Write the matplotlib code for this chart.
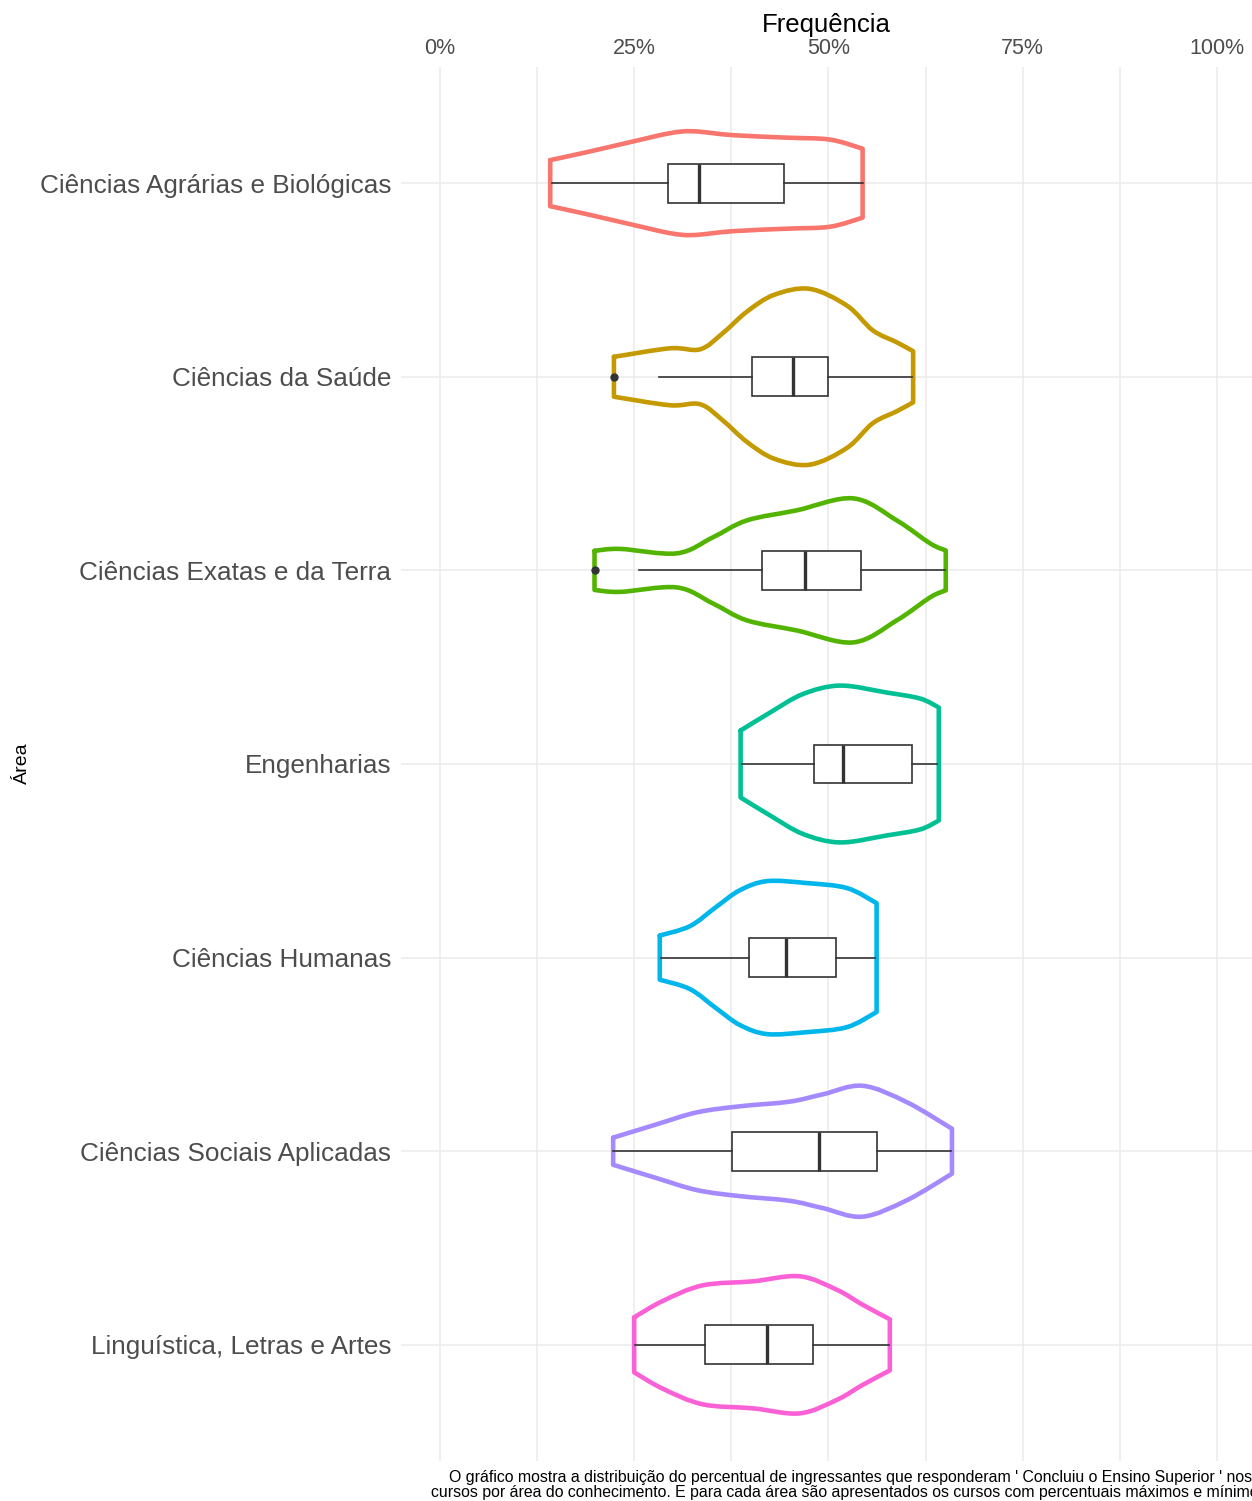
import numpy as np
import matplotlib
matplotlib.use("Agg")
import matplotlib.pyplot as plt
from matplotlib.path import Path
from matplotlib.patches import PathPatch
from matplotlib.ticker import MultipleLocator, FuncFormatter

plt.rcParams['font.family'] = ['Liberation Sans', 'DejaVu Sans']

# categorias (de cima para baixo)
areas = [
    "Ciências Agrárias e Biológicas",
    "Ciências da Saúde",
    "Ciências Exatas e da Terra",
    "Engenharias",
    "Ciências Humanas",
    "Ciências Sociais Aplicadas",
    "Linguística, Letras e Artes",
]
cores = ["#F8766D", "#C49A00", "#53B400", "#00C094", "#00B6EB", "#A58AFF", "#FB61D7"]

# contorno dos violinos: posição (%) e meia-largura (unidades de categoria)
viol_x = [
    [14.2, 18.9, 24.5, 29.6, 32.6, 37.7, 44.7, 50.2, 54.4],
    [22.4, 29.6, 33.5, 36.4, 39.5, 43.0, 47.6, 52.4, 55.7, 58.8, 60.9],
    [19.9, 23.2, 30.5, 35.1, 39.5, 45.9, 53.2, 58.8, 63.1, 65.1],
    [38.7, 42.5, 46.7, 51.5, 57.5, 61.8, 64.2],
    [28.3, 32.2, 35.6, 38.6, 42.1, 47.2, 52.4, 56.2],
    [22.3, 27.9, 33.1, 38.6, 45.0, 49.3, 54.4, 60.1, 65.9],
    [25.0, 28.7, 33.8, 40.3, 46.3, 51.1, 54.4, 57.9],
]
viol_w = [
    [0.119, 0.160, 0.212, 0.258, 0.268, 0.248, 0.235, 0.225, 0.178],
    [0.103, 0.147, 0.142, 0.225, 0.336, 0.423, 0.454, 0.367, 0.240, 0.178, 0.132],
    [0.101, 0.111, 0.088, 0.170, 0.258, 0.310, 0.372, 0.258, 0.139, 0.103],
    [0.173, 0.266, 0.361, 0.405, 0.369, 0.338, 0.292],
    [0.114, 0.163, 0.263, 0.348, 0.395, 0.385, 0.359, 0.281],
    [0.070, 0.139, 0.201, 0.232, 0.256, 0.294, 0.338, 0.253, 0.116],
    [0.142, 0.227, 0.307, 0.328, 0.354, 0.284, 0.207, 0.132],
]

# boxplots
whisk_lo = [14.4, 28.2, 25.6, 38.9, 28.4, 22.3, 25.1]
q1 = [29.3, 40.2, 41.4, 48.1, 39.8, 37.6, 34.1]
mediana = [33.3, 45.4, 47.0, 51.9, 44.5, 48.8, 42.1]
q3 = [44.3, 49.9, 54.2, 60.7, 51.0, 56.2, 48.0]
whisk_hi = [54.4, 60.7, 65.0, 64.0, 56.0, 65.8, 57.8]
outliers = [[], [22.4], [19.9], [], [], [], []]

legenda = ("O gráfico mostra a distribuição do percentual de ingressantes que responderam ' Concluiu o Ensino Superior ' nos\n"
           "cursos por área do conhecimento. E para cada área são apresentados os cursos com percentuais máximos e mínimos.")


def smooth_path(pts):
    # curva suave (Catmull-Rom -> Bezier) passando pelos pontos
    verts = [pts[0]]
    codes = [Path.MOVETO]
    n = len(pts)
    for i in range(n - 1):
        p0 = pts[max(i - 1, 0)]
        p1 = pts[i]
        p2 = pts[i + 1]
        p3 = pts[min(i + 2, n - 1)]
        c1 = p1 + (p2 - p0) / 6
        c2 = p2 - (p3 - p1) / 6
        verts += [c1, c2, p2]
        codes += [Path.CURVE4] * 3
    return verts, codes


W, H = 1252, 1501
fig = plt.figure(figsize=(W / 100, H / 100), dpi=100)
left, right, top, bottom = 401, 1252, 67, 1461
ax = fig.add_axes([left / W, 1 - bottom / H, (right - left) / W, (bottom - top) / H])

for i in range(len(areas)):
    pos = i + 1
    xs = np.array(viol_x[i])
    ws = np.array(viol_w[i])
    top_pts = np.column_stack([xs, pos - ws])
    bot_pts = np.column_stack([xs[::-1], pos + ws[::-1]])
    v1, c1 = smooth_path(top_pts)
    v2, c2 = smooth_path(bot_pts)
    c2[0] = Path.LINETO
    verts = v1 + v2 + [v1[0]]
    codes = c1 + c2 + [Path.LINETO]
    patch = PathPatch(Path(np.array(verts), codes), facecolor='none', edgecolor=cores[i],
                      lw=3.3, joinstyle='round', capstyle='round', zorder=3)
    ax.add_patch(patch)

stats = []
for i in range(len(areas)):
    stats.append(dict(whislo=whisk_lo[i], q1=q1[i], med=mediana[i], q3=q3[i],
                      whishi=whisk_hi[i], fliers=outliers[i]))

ax.bxp(stats, positions=range(1, len(areas) + 1), widths=0.2, orientation='horizontal',
       patch_artist=True, showcaps=False,
       boxprops=dict(facecolor='white', edgecolor='#333333', lw=1.2),
       medianprops=dict(color='#333333', lw=2.4),
       whiskerprops=dict(color='#333333', lw=1.2),
       flierprops=dict(marker='o', markerfacecolor='#333333', markeredgecolor='#333333', markersize=5),
       zorder=4)

ax.set_xlim(-5, (right - 440) / 7.77)
ax.set_ylim(len(areas) + 0.6, 0.4)
ax.set_yticks(range(1, len(areas) + 1))
ax.set_yticklabels(areas)

ax.xaxis.set_major_locator(MultipleLocator(25))
ax.xaxis.set_minor_locator(MultipleLocator(12.5))
ax.xaxis.set_major_formatter(FuncFormatter(lambda v, p: f"{v:.0f}%"))
ax.xaxis.tick_top()
ax.xaxis.set_label_position('top')
ax.tick_params(axis='both', which='both', length=0)
ax.tick_params(axis='x', labelsize=15.5, colors='#4D4D4D', pad=6)
ax.tick_params(axis='y', labelsize=18.8, colors='#4D4D4D', pad=7)
ax.set_xlabel("Frequência", fontsize=18.5, color='black', labelpad=4)

ax.grid(True, which='major', color='#EBEBEB', lw=1.1)
ax.grid(True, which='minor', axis='x', color='#EBEBEB', lw=1.1)
ax.set_axisbelow(True)
for s in ax.spines.values():
    s.set_visible(False)

fig.text(22 / W, 1 - 763 / H, "Área", rotation=90, ha='center', va='center', fontsize=14)
# legenda cortada na borda direita, como no original
fig.text(851 / W, 1 - 1485 / H, legenda, ha='center', va='center', multialignment='center',
         fontsize=11.4, linespacing=0.95)

fig.savefig("out.png", dpi=100)
